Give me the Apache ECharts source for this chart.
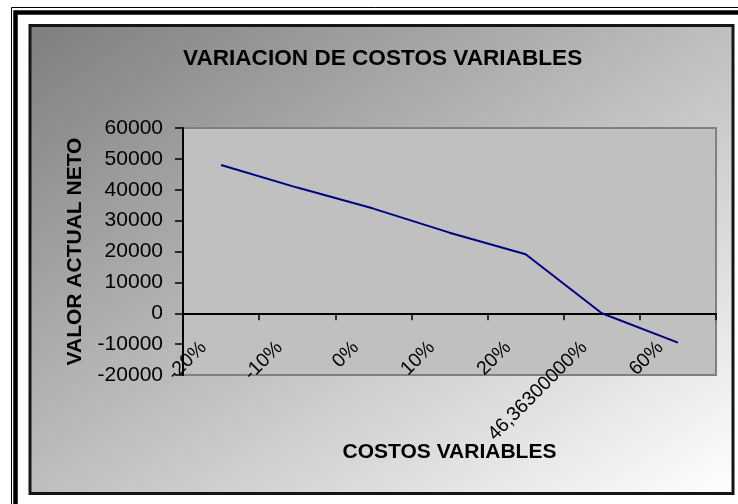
<!DOCTYPE html>
<html>
<head>
<meta charset="utf-8">
<script src="https://cdn.jsdelivr.net/npm/echarts@6/dist/echarts.min.js"></script>
<style>
  html, body { margin: 0; padding: 0; background: #fff; }
  #chart { width: 738px; height: 504px; }
</style>
</head>
<body>
<div id="chart"></div>
<script>
const categories = ["-20%", "-10%", "0%", "10%", "20%", "46,36300000%", "60%"];
const valorActualNeto = [48000, 40700, 33900, 26100, 19100, 0, -9500];

const FONT = 'Arial, "Liberation Sans", sans-serif';

const chart = echarts.init(document.getElementById("chart"));
chart.setOption({
  backgroundColor: "#fff",
  animation: false,
  title: {
    text: "VARIACION DE COSTOS VARIABLES",
    left: 183,
    top: 47,
    padding: 0,
    textStyle: { fontFamily: FONT, fontSize: 22.6, fontWeight: "bold", color: "#000" },
  },
  graphic: [
    // outer double frame
    {
      type: "rect", z: -100, silent: true,
      shape: { x: 11.5, y: 7.5, width: 800, height: 600 },
      style: { fill: null, stroke: "#000", lineWidth: 1 },
    },
    {
      type: "rect", z: -100, silent: true,
      shape: { x: 15.5, y: 12.5, width: 800, height: 600 },
      style: { fill: null, stroke: "#000", lineWidth: 4.5 },
    },
    // chart area with diagonal gradient
    {
      type: "rect", z: -100, silent: true,
      shape: { x: 30, y: 25.5, width: 703, height: 468 },
      style: {
        fill: new echarts.graphic.LinearGradient(0, 0, 0.616, 1.385, [
          { offset: 0, color: "#7e7e7e" },
          { offset: 1, color: "#ffffff" },
        ]),
        stroke: "#151515",
        lineWidth: 3,
      },
    },
  ],
  grid: {
    left: 183,
    right: 22,
    top: 128,
    bottom: 129,
    containLabel: false,
    outerBoundsMode: "none",
    show: true,
    backgroundColor: "#c0c0c0",
    borderColor: "#808080",
    borderWidth: 2,
  },
  xAxis: {
    type: "category",
    data: categories,
    boundaryGap: true,
    name: "COSTOS VARIABLES",
    nameLocation: "middle",
    nameGap: 67,
    nameMoveOverlap: false,
    nameTextStyle: { fontFamily: FONT, fontSize: 21, fontWeight: "bold", color: "#000" },
    axisLine: { onZero: true, lineStyle: { color: "#000", width: 2 } },
    axisTick: { show: true, length: 7, lineStyle: { color: "#000", width: 1.5 } },
    axisLabel: {
      rotate: 45,
      interval: 0,
      margin: -48,
      padding: [0, 25, 0, 0],
      fontFamily: FONT,
      fontSize: 19.5,
      color: "#000",
    },
    splitLine: { show: false },
  },
  yAxis: {
    type: "value",
    min: -20000,
    max: 60000,
    interval: 10000,
    name: "VALOR ACTUAL NETO",
    nameLocation: "middle",
    nameGap: 97,
    nameTextStyle: { fontFamily: FONT, fontSize: 21, fontWeight: "bold", color: "#000" },
    axisLine: { show: true, lineStyle: { color: "#000", width: 2 } },
    axisTick: { show: true, length: 8, lineStyle: { color: "#000", width: 1.5 } },
    axisLabel: {
      margin: 20,
      fontFamily: FONT,
      fontSize: 21,
      color: "#000",
      formatter: (v) => String(v),
    },
    splitLine: { show: false },
  },
  series: [
    {
      name: "VALOR ACTUAL NETO",
      type: "line",
      data: valorActualNeto,
      symbol: "none",
      lineStyle: { color: "#000080", width: 2 },
      itemStyle: { color: "#000080" },
    },
  ],
});
</script>
</body>
</html>
